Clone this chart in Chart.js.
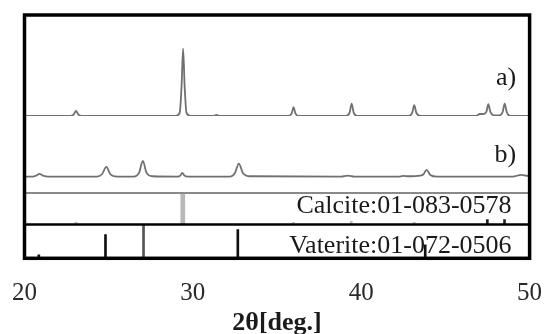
<!DOCTYPE html>
<html><head><meta charset="utf-8">
<script src="https://cdn.jsdelivr.net/npm/chart.js@4/dist/chart.umd.min.js"></script>
<style>html,body{margin:0;padding:0;background:#fff;}canvas{display:block;}</style>
</head><body>
<canvas id="c" width="545" height="334"></canvas>
<script>
// ---- data ----
const xTicks = [20, 30, 40, 50];
const xTitle = '2θ[deg.]';
const patternLabels = ['a)', 'b)'];
const cardLabels = ['Calcite:01-083-0578', 'Vaterite:01-072-0506'];

// pattern a) (calcite-rich sample)
const aTheta  = [20.0, 22.7, 22.93, 23.06, 23.19, 23.4, 29.0, 29.22, 29.33, 29.42, 29.51, 29.62, 29.85,
                 31.2, 31.4, 31.6, 35.65, 35.87, 35.98, 36.09, 36.3, 39.1, 39.31, 39.43, 39.55, 39.75,
                 42.85, 43.03, 43.15, 43.27, 43.5, 46.8, 47.05, 47.25, 47.43, 47.55, 47.67, 47.9,
                 48.2, 48.4, 48.52, 48.64, 48.85, 50.0];
const aCounts = [0, 0, 2.5, 7.5, 2.5, 0, 0, 5, 45, 100, 45, 5, 0,
                 0, 1.5, 0, 0, 4, 13, 4, 0, 0, 5, 18.5, 5, 0,
                 0, 5, 16, 5, 0, 0, 3, 3, 6, 17.5, 6, 1,
                 1, 6, 18.5, 6, 0, 0];

// pattern b) (vaterite-rich sample)
const bTheta  = [20.0, 20.5, 20.7, 20.89, 21.1, 21.4, 24.3, 24.6, 24.86, 25.1, 25.5, 26.5, 26.8, 27.03,
                 27.25, 27.6, 29.1, 29.25, 29.37, 29.5, 29.7, 32.2, 32.5, 32.73, 32.97, 33.4, 38.8,
                 39.2, 39.6, 42.2, 42.5, 42.8, 43.5, 43.7, 43.88, 44.1, 44.5, 49.0, 49.5, 49.9, 50.0];
const bCounts = [0.5, 0.5, 2, 4.5, 2, 0.5, 0.5, 4, 15, 4, 0.5, 0.5, 6, 24,
                 6, 1, 0.5, 2, 6, 2, 0.5, 0.5, 6, 20, 6, 1, 0.5,
                 2, 0.5, 0.5, 1.5, 1, 2, 4, 10.5, 3, 0.5, 0.5, 3, 1.5, 1.5];

// reference cards (relative intensity, %)
const calcitePos  = [23.06, 29.40, 35.97, 39.41, 43.15, 47.49, 48.51];
const calciteInt  = [8, 100, 7, 10, 7, 16, 16];
const vateritePos = [20.85, 24.81, 27.07, 32.67, 43.80];
const vateriteInt = [10, 70, 100, 85, 40];

// ---- build datasets ----
const pts = (xs, ys) => xs.map((x, i) => ({x, y: ys[i]}));
const calMain = [], calMinor = [];
calcitePos.forEach((x, i) => (calciteInt[i] >= 100 ? calMain : calMinor).push({x, y: calciteInt[i]}));

const SERIF = '"Liberation Serif", "Times New Roman", serif';

const frame = {
  id: 'frame',
  afterDatasetsDraw(chart) {
    const {ctx, chartArea: ca, scales: s} = chart;
    ctx.save();
    ctx.fillStyle = '#1a1a1a';
    ctx.textAlign = 'right';
    ctx.textBaseline = 'middle';
    ctx.font = '26px ' + SERIF;
    ctx.fillText(patternLabels[0], s.x.getPixelForValue(49.2), s.yA.getPixelForValue(56));
    ctx.fillText(patternLabels[1], s.x.getPixelForValue(49.2), s.yB.getPixelForValue(33));
    ctx.fillText(cardLabels[0], s.x.getPixelForValue(48.93), s.yC.getPixelForValue(57));
    ctx.fillText(cardLabels[1], s.x.getPixelForValue(48.93), s.yV.getPixelForValue(36));
    // separators
    ctx.strokeStyle = '#8a8a8a'; ctx.lineWidth = 2;
    ctx.beginPath(); ctx.moveTo(ca.left, s.yB.bottom); ctx.lineTo(ca.right, s.yB.bottom); ctx.stroke();
    ctx.strokeStyle = '#000'; ctx.lineWidth = 2.5;
    ctx.beginPath(); ctx.moveTo(ca.left, s.yC.bottom); ctx.lineTo(ca.right, s.yC.bottom); ctx.stroke();
    // outer frame
    ctx.lineWidth = 3.5; ctx.strokeStyle = '#000';
    ctx.strokeRect(ca.left, ca.top, ca.right - ca.left, ca.bottom - ca.top);
    ctx.restore();
  }
};

const hidden = {display: false, grid: {display: false}, ticks: {display: false}};

new Chart(document.getElementById('c'), {
  data: {
    datasets: [
      {type: 'line', yAxisID: 'yA', data: pts(aTheta, aCounts), borderColor: '#707070', borderWidth: 1.8,
       pointRadius: 0, cubicInterpolationMode: 'monotone'},
      {type: 'line', yAxisID: 'yB', data: pts(bTheta, bCounts), borderColor: '#707070', borderWidth: 1.8,
       pointRadius: 0, cubicInterpolationMode: 'monotone'},
      {type: 'bar', yAxisID: 'yC', data: calMain, backgroundColor: '#b8b8b8', barThickness: 4, grouped: false},
      {type: 'bar', yAxisID: 'yC', data: calMinor, barThickness: 2, grouped: false,
       backgroundColor: calMinor.map(p => p.y >= 15 ? '#222' : '#bdbdbd')},
      {type: 'bar', yAxisID: 'yV', data: pts(vateritePos, vateriteInt), barThickness: 2, grouped: false,
       backgroundColor: vateriteInt.map(v => v >= 100 ? '#555' : '#111')}
    ]
  },
  options: {
    responsive: false,
    animation: false,
    events: [],
    layout: {padding: {left: 24.5, right: 15.4, top: 15, bottom: -2}},
    plugins: {legend: {display: false}, tooltip: {enabled: false}},
    scales: {
      x: {
        type: 'linear', position: 'bottom', min: 20, max: 50, offset: false,
        afterBuildTicks: sc => { sc.ticks = xTicks.map(v => ({value: v})); },
        grid: {display: false, drawTicks: false, offset: false},
        border: {display: false},
        ticks: {padding: 0, color: '#2a2a2a', font: {family: SERIF, size: 25, lineHeight: 2.776}},
        title: {display: true, text: xTitle, color: '#1a1a1a', padding: {top: -17.7, bottom: 0},
                font: {family: SERIF, size: 26, weight: 'bold', lineHeight: 1}}
      },
      yA: Object.assign({type: 'linear', position: 'left', stack: 'xrd', stackWeight: 101, weight: 4, min: 0, max: 150}, hidden),
      yB: Object.assign({type: 'linear', position: 'left', stack: 'xrd', stackWeight: 77, weight: 3, min: -24, max: 91}, hidden),
      yC: Object.assign({type: 'linear', position: 'left', stack: 'xrd', stackWeight: 31.5, weight: 2, min: 0, max: 100}, hidden),
      yV: Object.assign({type: 'linear', position: 'left', stack: 'xrd', stackWeight: 33.8, weight: 1, min: 0, max: 100}, hidden)
    }
  },
  plugins: [frame]
});
</script>
</body></html>
